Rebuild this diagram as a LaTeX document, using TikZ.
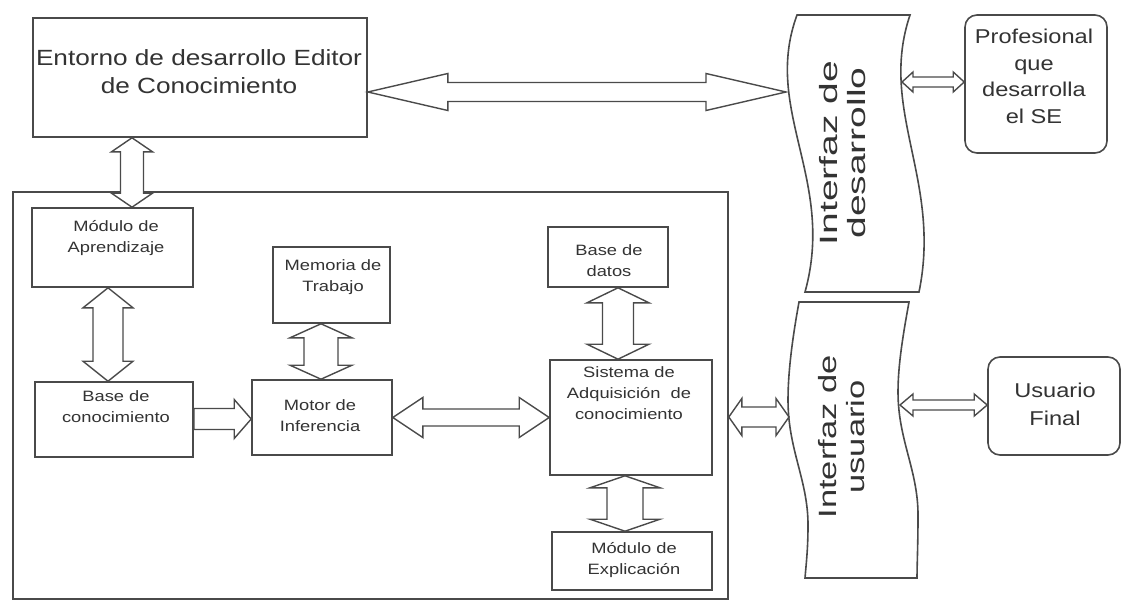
\documentclass[tikz,border=0pt]{standalone}
\usepackage{fontspec}
\setmainfont{Liberation Sans}
\usepackage{graphicx}
\usetikzlibrary{calc}
\definecolor{ln}{HTML}{4A4A4A}
\definecolor{tx}{HTML}{333333}
\newcommand\stx[2]{\scalebox{#1}[1]{\begin{tabular}{@{}c@{}}#2\end{tabular}}}
% horizontal double fat arrow: #1 start, #2 end, #3 shaft half, #4 head half, #5 head length
\newcommand\fatH[5]{\draw[fat] let \p1=#1, \p2=#2 in
  (\x1,\y1) -- (\x1+#5,\y1+#4) -- (\x1+#5,\y1+#3) -- (\x2-#5,\y1+#3) -- (\x2-#5,\y1+#4)
  -- (\x2,\y1) -- (\x2-#5,\y1-#4) -- (\x2-#5,\y1-#3) -- (\x1+#5,\y1-#3) -- (\x1+#5,\y1-#4) -- cycle;}
% vertical double fat arrow: #1 top start, #2 bottom end
\newcommand\fatV[5]{\draw[fat] let \p1=#1, \p2=#2 in
  (\x1,\y1) -- (\x1+#4,\y1-#5) -- (\x1+#3,\y1-#5) -- (\x1+#3,\y2+#5) -- (\x1+#4,\y2+#5)
  -- (\x1,\y2) -- (\x1-#4,\y2+#5) -- (\x1-#3,\y2+#5) -- (\x1-#3,\y1-#5) -- (\x1-#4,\y1-#5) -- cycle;}
% single right fat arrow
\newcommand\fatR[5]{\draw[fat] let \p1=#1, \p2=#2 in
  (\x1,\y1+#3) -- (\x2-#5,\y1+#3) -- (\x2-#5,\y1+#4) -- (\x2,\y1) -- (\x2-#5,\y1-#4)
  -- (\x2-#5,\y1-#3) -- (\x1,\y1-#3) -- cycle;}
\tikzset{
  box/.style={draw=ln, line width=1.6pt, rectangle, inner sep=0pt},
  rbox/.style={box, rounded corners=12pt},
  fat/.style={draw=ln, line width=1.4pt, fill=white, line join=miter},
  wavy/.style={draw=ln, line width=1.6pt},
  small/.style={text=tx, font=\fontsize{15}{21}\selectfont, inner sep=0pt},
  big/.style={text=tx, inner sep=0pt},
}
\begin{document}
\begin{tikzpicture}[x=1pt,y=-1pt]
\useasboundingbox (0,0) rectangle (1123,602);
\fill[white] (0,0) rectangle (1123,602);

% container
\node[box, minimum width=715pt, minimum height=407pt] (cont) at (370.5,395.5) {};

% boxes
\node[box, minimum width=334pt, minimum height=119pt] (entorno) at (200,77.5) {};
\node[big, font=\fontsize{22}{28}\selectfont] (entornoT) at (199,74) {\stx{1.19}{Entorno de desarrollo Editor\\de Conocimiento}};

\node[box, minimum width=161pt, minimum height=79pt] (mapr) at (112.5,247.5) {};
\node[small] (maprT) at (116,237.5) {\stx{1.22}{Módulo de\\Aprendizaje}};

\node[box, minimum width=158pt, minimum height=75pt] (baseC) at (114,419.5) {};
\node[small] (baseCT) at (116,408) {\stx{1.22}{Base de\\conocimiento}};

\node[box, minimum width=117pt, minimum height=76pt] (memoria) at (331.5,285) {};
\node[small] (memoriaT) at (333,276.5) {\stx{1.22}{Memoria de\\Trabajo}};

\node[box, minimum width=140pt, minimum height=75pt] (motor) at (322,417.5) {};
\node[small] (motorT) at (320,417) {\stx{1.22}{Motor de\\Inferencia}};

\node[box, minimum width=120pt, minimum height=60pt] (bdatos) at (608,257) {};
\node[small] (bdatosT) at (609,262) {\stx{1.22}{Base de\\datos}};

\node[box, minimum width=162pt, minimum height=115pt] (sistema) at (631,417.5) {};
\node[small] (sistemaT) at (629,394) {\stx{1.22}{Sistema de\\Adquisición\ \ de\\conocimiento}};

\node[box, minimum width=160pt, minimum height=58pt] (explic) at (632,561) {};
\node[small] (explicT) at (634,560) {\stx{1.22}{Módulo de\\Explicación}};

\node[rbox, minimum width=142pt, minimum height=138pt] (prof) at (1036,84) {};
\node[big, font=\fontsize{20}{26.5}\selectfont] (profT) at (1034,78) {\stx{1.18}{Profesional\\que\\desarrolla\\el SE}};

\node[rbox, minimum width=132pt, minimum height=98pt] (usuario) at (1054,406) {};
\node[big, font=\fontsize{20}{28}\selectfont] (usuarioT) at (1055,406) {\stx{1.18}{Usuario\\Final}};

% interfaces (wavy shapes)
\draw[wavy] (797,15) -- (910,15) .. controls (878,110) and (942,180) .. (919,292)
  -- (805,292) .. controls (836,180) and (762,110) .. (797,15) -- cycle;
\node[big, font=\fontsize{25}{28}\selectfont, rotate=90] (idevT) at (846,153) {\stx{1.56}{Interfaz de\\desarrollo}};

\draw[wavy] (799,302) -- (909,302)
  .. controls (903,335) and (898,365) .. (898,392)
  .. controls (898,440) and (918,470) .. (918,515)
  .. controls (918,545) and (917,565) .. (917,578)
  -- (805,578)
  .. controls (806,565) and (808,550) .. (808,525)
  .. controls (808,480) and (788,450) .. (788,400)
  .. controls (788,370) and (793,335) .. (799,302) -- cycle;
\node[big, font=\fontsize{25}{28}\selectfont, rotate=90] (iusrT) at (845,437) {\stx{1.38}{Interfaz de\\usuario}};

\coordinate (idevW) at (786,92);
\coordinate (idevE) at (902,82);
\coordinate (iusrW) at (789,417);
\coordinate (iusrE) at (900,405);

% connectors
\fatH{($(entorno.east)+(0,14.5)$)}{(idevW)}{9.5pt}{18.5pt}{80pt}
\fatH{(idevE)}{(prof.west |- idevE)}{5pt}{10pt}{11pt}
\fatH{(cont.east |- iusrW)}{(iusrW)}{10pt}{18.5pt}{13pt}
\fatH{(iusrE)}{(usuario.west |- iusrE)}{5pt}{11pt}{13pt}
\fatV{($(entorno.south)+(-68,0)$)}{(mapr.north)}{11.5pt}{20.5pt}{14pt}
\fatV{($(mapr.south)+(-4.5,0)$)}{(baseC.north)}{15pt}{25pt}{20pt}
\fatV{($(memoria.south)+(-10.5,0)$)}{(motor.north)}{17pt}{31pt}{14pt}
\fatR{($(baseC.east)+(0,-0.5)$)}{(motor.west)}{10.5pt}{19.5pt}{17pt}
\fatH{(motor.east)}{(sistema.west)}{8.5pt}{20pt}{30pt}
\fatV{($(bdatos.south)+(10,0)$)}{(sistema.north)}{15.5pt}{31pt}{15pt}
\fatV{($(sistema.south)+(-6,0)$)}{(explic.north)}{18pt}{35pt}{12pt}
\end{tikzpicture}
\end{document}
